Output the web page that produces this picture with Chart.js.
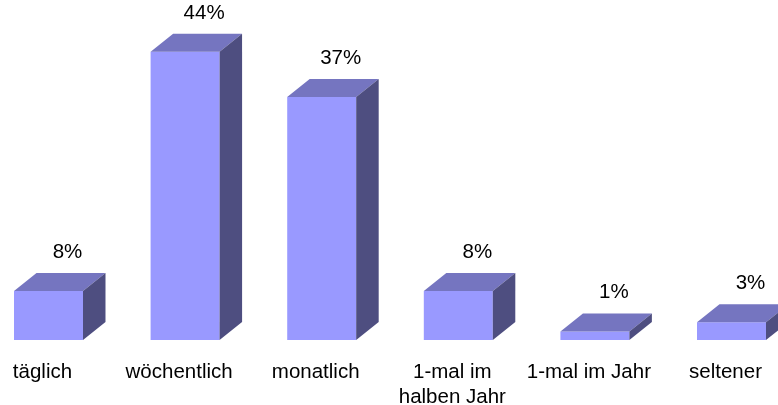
<!DOCTYPE html>
<html>
<head>
<meta charset="utf-8">
<script src="https://cdn.jsdelivr.net/npm/chart.js@4/dist/chart.umd.min.js"></script>
<style>
  html, body { margin: 0; padding: 0; background: #ffffff; }
  #c { display: block; }
</style>
</head>
<body>
<canvas id="c" width="778" height="405"></canvas>
<script>
// ---- data ----
const categories = ['täglich', 'wöchentlich', 'monatlich', ['1-mal im', 'halben Jahr'], '1-mal im Jahr', 'seltener'];
const values = [7.5, 44, 37.1, 7.5, 1.3, 2.7];
const valueLabels = ['8%', '44%', '37%', '8%', '1%', '3%'];

// ---- styles ----
const FRONT = '#9999FF';
const TOP = '#7575C0';
const SIDE = '#4E4E80';
const DEPTH_X = 22.5;
const DEPTH_Y = -18;
const FONT = '20.5px "Liberation Sans", Arial, sans-serif';
const LABEL_SHIFT = -6;

const bar3d = {
  id: 'bar3d',
  afterDatasetsDraw(chart) {
    const ctx = chart.ctx;
    const meta = chart.getDatasetMeta(0);
    ctx.save();
    meta.data.forEach((el, i) => {
      const p = el.getProps(['x', 'y', 'base', 'width'], true);
      const l = p.x - p.width / 2, r = p.x + p.width / 2;
      // top face
      ctx.fillStyle = TOP;
      ctx.beginPath();
      ctx.moveTo(l, p.y);
      ctx.lineTo(l + DEPTH_X, p.y + DEPTH_Y);
      ctx.lineTo(r + DEPTH_X, p.y + DEPTH_Y);
      ctx.lineTo(r, p.y);
      ctx.closePath();
      ctx.fill();
      // side face
      ctx.fillStyle = SIDE;
      ctx.beginPath();
      ctx.moveTo(r, p.y);
      ctx.lineTo(r + DEPTH_X, p.y + DEPTH_Y);
      ctx.lineTo(r + DEPTH_X, p.base + DEPTH_Y);
      ctx.lineTo(r, p.base);
      ctx.closePath();
      ctx.fill();
      // value label
      ctx.fillStyle = '#000000';
      ctx.font = FONT;
      ctx.textAlign = 'center';
      ctx.textBaseline = 'alphabetic';
      ctx.fillText(valueLabels[i], p.x + 19, p.y + DEPTH_Y - 15);
    });
    // category labels
    const xs = chart.scales.x;
    categories.forEach((c, i) => {
      const cx = xs.getPixelForValue(i) + LABEL_SHIFT;
      const lines = Array.isArray(c) ? c : [c];
      lines.forEach((t, k) => {
        ctx.fillText(t, cx, 377.5 + k * 25.5);
      });
    });
    ctx.restore();
  }
};

new Chart(document.getElementById('c'), {
  type: 'bar',
  data: {
    labels: categories,
    datasets: [{
      data: values,
      backgroundColor: FRONT,
      borderWidth: 0,
      barPercentage: 0.505,
      categoryPercentage: 1,
      clip: false
    }]
  },
  options: {
    responsive: false,
    animation: false,
    devicePixelRatio: 1,
    layout: { padding: { left: 48.5, right: 46.5, top: 12.5, bottom: 65 } },
    plugins: { legend: { display: false }, tooltip: { enabled: false } },
    scales: {
      x: { display: false, offset: false, grid: { display: false } },
      y: { display: false, min: 0, max: 50 }
    }
  },
  plugins: [bar3d]
});
</script>
</body>
</html>
